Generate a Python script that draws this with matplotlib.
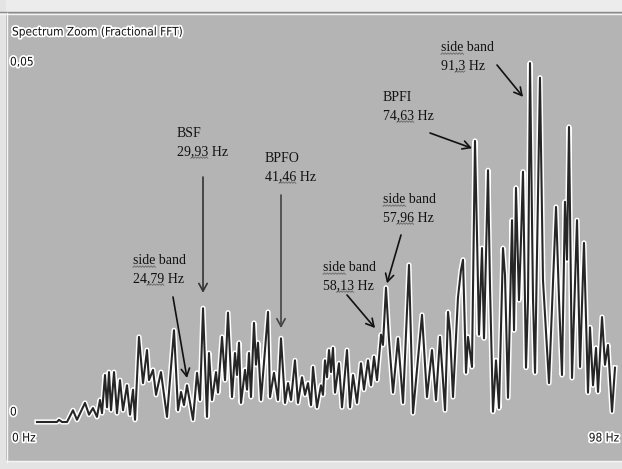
import numpy as np
import matplotlib.pyplot as plt
import matplotlib.patheffects as pe
from matplotlib.patches import Rectangle, ConnectionPatch

# spectrum, local maxima/minima of the zoomed FFT (Hz, amplitude)
freq = [0.00, 3.39, 3.73, 4.24, 5.09, 6.10, 6.78, 8.14, 8.82, 9.49,
        10.17, 10.68, 11.02, 11.53, 11.87, 12.21, 12.55, 13.06, 13.56, 14.07,
        14.58, 15.26, 15.77, 16.28, 16.62, 17.29, 17.97, 18.65, 18.99, 19.67,
        20.18, 21.02, 22.04, 23.23, 23.91, 24.42, 24.92, 25.43, 26.45, 27.13,
        27.64, 28.15, 28.82, 29.16, 29.67, 30.35, 30.69, 31.37, 31.88, 32.38,
        33.06, 33.57, 33.91, 34.25, 34.59, 35.27, 35.61, 35.94, 36.28, 36.79,
        37.13, 37.47, 37.98, 39.17, 39.51, 40.18, 40.86, 41.37, 42.05, 42.56,
        43.07, 43.74, 44.25, 44.93, 45.44, 45.95, 46.46, 46.80, 47.47, 48.15,
        48.49, 48.83, 49.17, 49.51, 49.85, 50.19, 50.53, 51.20, 51.71, 52.56,
        53.07, 53.58, 54.26, 54.93, 55.44, 56.12, 56.63, 57.14, 57.65, 58.33,
        58.66, 59.17, 59.68, 60.36, 61.21, 62.06, 63.07, 63.75, 65.28, 66.12,
        66.97, 67.65, 68.33, 69.18, 69.69, 70.02, 70.53, 71.38, 71.89, 72.23,
        72.74, 73.08, 73.75, 74.26, 74.60, 74.94, 75.45, 75.79, 76.47, 76.81,
        77.31, 77.82, 78.33, 79.01, 79.35, 79.86, 80.54, 80.88, 81.21, 81.72,
        82.06, 82.40, 82.91, 83.25, 83.59, 84.10, 84.44, 85.28, 85.79, 86.81,
        88.00, 88.51, 89.01, 89.52, 89.86, 90.20, 90.71, 91.56, 92.07, 92.74,
        93.42, 93.76, 94.27, 94.78, 95.12, 95.80, 96.30, 96.81, 97.49, 98.00]
amp = [0.0000, 0.0000, 0.0003, 0.0000, 0.0000, 0.0016, 0.0003, 0.0026, 0.0010, 0.0019,
       0.0007, 0.0030, 0.0012, 0.0064, 0.0020, 0.0068, 0.0016, 0.0068, 0.0012, 0.0057,
       0.0016, 0.0050, 0.0010, 0.0044, 0.0003, 0.0116, 0.0053, 0.0098, 0.0057, 0.0071,
       0.0037, 0.0068, 0.0007, 0.0125, 0.0016, 0.0041, 0.0023, 0.0050, 0.0003, 0.0067,
       0.0030, 0.0155, 0.0007, 0.0094, 0.0030, 0.0068, 0.0040, 0.0116, 0.0057, 0.0149,
       0.0034, 0.0094, 0.0064, 0.0108, 0.0026, 0.0071, 0.0044, 0.0094, 0.0034, 0.0135,
       0.0078, 0.0108, 0.0030, 0.0150, 0.0034, 0.0067, 0.0030, 0.0114, 0.0026, 0.0053,
       0.0030, 0.0084, 0.0026, 0.0061, 0.0037, 0.0053, 0.0023, 0.0075, 0.0020, 0.0050,
       0.0037, 0.0084, 0.0061, 0.0098, 0.0068, 0.0101, 0.0040, 0.0080, 0.0020, 0.0098,
       0.0020, 0.0064, 0.0026, 0.0080, 0.0044, 0.0084, 0.0050, 0.0089, 0.0057, 0.0119,
       0.0105, 0.0183, 0.0112, 0.0040, 0.0114, 0.0026, 0.0214, 0.0012, 0.0146, 0.0034,
       0.0098, 0.0030, 0.0116, 0.0016, 0.0150, 0.0123, 0.0034, 0.0170, 0.0207, 0.0221,
       0.0067, 0.0116, 0.0075, 0.0383, 0.0255, 0.0119, 0.0237, 0.0114, 0.0343, 0.0183,
       0.0014, 0.0084, 0.0019, 0.0237, 0.0200, 0.0033, 0.0275, 0.0125, 0.0319, 0.0166,
       0.0248, 0.0341, 0.0074, 0.0166, 0.0489, 0.0166, 0.0067, 0.0469, 0.0193, 0.0053,
       0.0293, 0.0166, 0.0064, 0.0300, 0.0221, 0.0402, 0.0060, 0.0275, 0.0075, 0.0244,
       0.0040, 0.0129, 0.0050, 0.0101, 0.0041, 0.0143, 0.0078, 0.0105, 0.0014, 0.0074]

# bearing fault frequency labels (name line, frequency line)
label_name = ["side band", "BSF", "BPFO", "side band", "side band", "BPFI", "side band"]
label_freq = ["24,79 Hz", "29,93 Hz", "41,46 Hz", "58,13 Hz", "57,96 Hz", "74,63 Hz", "91,3 Hz"]
label_base = [(133, 264), (177, 137), (265, 162), (323, 271),
              (383, 203), (383, 101), (441, 51)]
arrow_from = [(173, 297), (203, 177), (281, 195), (347, 295),
              (401, 235), (430, 133), (497, 65)]
arrow_to = [(25.43, 0.0060), (28.15, 0.0176), (41.37, 0.0128), (57.31, 0.0128),
            (59.34, 0.0189), (73.75, 0.0373), (82.40, 0.0443)]
arrow_col = ['#111111', '#333333', '#444444', '#111111', '#111111', '#111111', '#111111']

W, H = 622, 469
BG = '#b4b4b4'
fig = plt.figure(figsize=(W / 100, H / 100), dpi=100, facecolor=BG)

# pixel-space layer for the window frame and captions
ov = fig.add_axes([0, 0, 1, 1])
ov.set_xlim(0, W)
ov.set_ylim(H, 0)
ov.axis('off')
ov.add_patch(Rectangle((0, 0), W, 12, color='#ececec', lw=0))
ov.plot([0, W], [12.5, 12.5], color='#8a8a8a', lw=1)
ov.plot([0, W], [14, 14], color='#f4f4f4', lw=1)
ov.add_patch(Rectangle((0, 0), 6, H, color='#e4e4e4', lw=0))
ov.plot([6.5, 6.5], [13, 462], color='#f6f6f6', lw=1)
ov.add_patch(Rectangle((0, 462), W, 7, color='#e4e4e4', lw=0))
ov.plot([6, W], [461.5, 461.5], color='#f6f6f6', lw=1)

halo = [pe.withStroke(linewidth=2.5, foreground='white')]
for txt, x, y, ha in [("Spectrum Zoom (Fractional FFT)", 12, 32, 'left'),
                      ("0,05", 10, 62, 'left'), ("0", 10, 412, 'left'),
                      ("0 Hz", 12, 438, 'left'), ("98 Hz", 619, 438, 'right')]:
    ov.text(x, y, txt, family='DejaVu Sans', fontstretch='condensed', fontsize=8.5,
            color='#111111', va='center', ha=ha, path_effects=halo)

ax = fig.add_axes([37 / W, 1 - 422 / H, (615 - 37) / W, (422 - 55) / H])
ax.set_xlim(0, 98)
ax.set_ylim(0, 0.05)
ax.axis('off')
ax.plot(freq, amp, color='#262626', lw=1.5, clip_on=False,
        path_effects=[pe.Stroke(linewidth=3.7, foreground='white'), pe.Normal()])

renderer = fig.canvas.get_renderer()


def squiggle(line_text, start, stop, x0, base, prop):
    # spell-checker style wavy underline under line_text[start:stop]
    xa = x0 + renderer.get_text_width_height_descent(line_text[:start], prop, False)[0] if start else x0
    xb = x0 + renderer.get_text_width_height_descent(line_text[:stop], prop, False)[0]
    xs = np.arange(xa, xb + 0.1, 1.4)
    ys = base + 2.6 + 0.7 * (-1) ** np.arange(len(xs))
    ov.plot(xs, ys, color='#707070', lw=0.7)


serif = ['Liberation Serif', 'DejaVu Serif']
for name, fq, (bx, by) in zip(label_name, label_freq, label_base):
    t1 = ov.text(bx, by, name, family=serif, fontsize=10, color='#111111',
                 va='baseline', ha='left')
    ov.text(bx, by + 18, fq, family=serif, fontsize=10, color='#111111',
            va='baseline', ha='left')
    prop = t1.get_fontproperties()
    if name.startswith('side'):
        squiggle(name, 0, 4, bx, by, prop)
    squiggle(fq, fq.index(','), fq.index(' '), bx, by + 18, prop)

for start, end, c in zip(arrow_from, arrow_to, arrow_col):
    con = ConnectionPatch(xyA=start, coordsA=ov.transData, xyB=end, coordsB=ax.transData,
                          arrowstyle='->,head_length=0.55,head_width=0.3',
                          color=c, lw=1.2, shrinkA=0, shrinkB=0)
    fig.add_artist(con)

fig.savefig('out.png', dpi=100, facecolor=BG)
